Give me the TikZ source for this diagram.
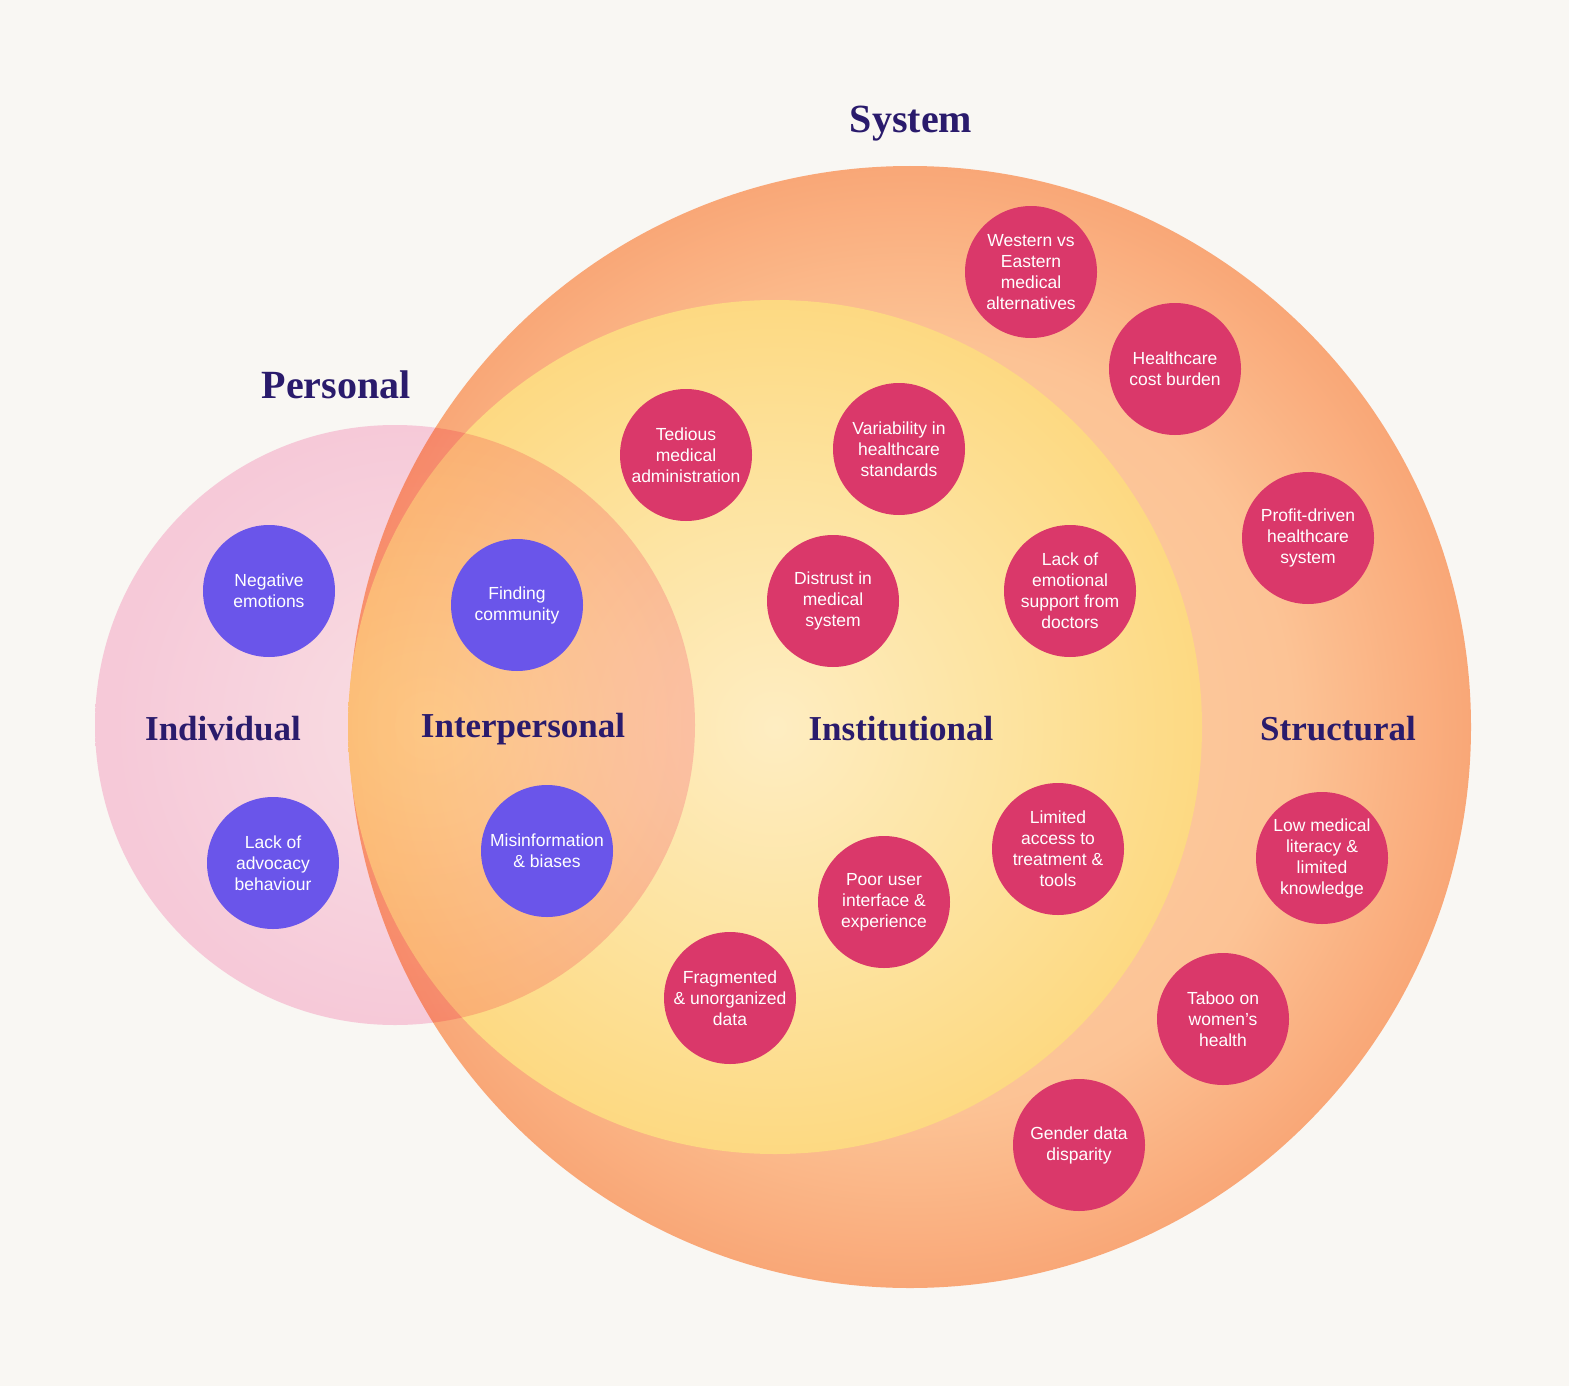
\documentclass[tikz,border=0pt]{standalone}
\usepackage{fontspec}
\setmainfont{Liberation Serif}
\setsansfont{Liberation Sans}
\usetikzlibrary{shadings}
\definecolor{bg}{HTML}{F9F7F3}
\definecolor{r1}{HTML}{DA386A}
\definecolor{v1}{HTML}{6A55EA}
\definecolor{n1}{HTML}{2A1B6C}
\definecolor{o1}{HTML}{FDD2A8}
\definecolor{o2}{HTML}{FCC395}
\definecolor{o3}{HTML}{F9A777}
\definecolor{y1}{HTML}{FEEDC2}
\definecolor{y2}{HTML}{FDE39F}
\definecolor{y3}{HTML}{FDD982}
\definecolor{p1}{HTML}{FFE6F0}
\definecolor{p3}{HTML}{FCD0E3}
\pgfdeclareradialshading{sysshade}{\pgfpoint{0bp}{0bp}}{color(0bp)=(o1); color(17bp)=(o2); color(25bp)=(o3); color(50bp)=(o3)}
\pgfdeclareradialshading{instshade}{\pgfpoint{0bp}{0bp}}{color(0bp)=(y1); color(14bp)=(y2); color(25bp)=(y3); color(50bp)=(y3)}
\pgfdeclareradialshading{persshade}{\pgfpoint{3bp}{0bp}}{color(0bp)=(p1); color(25bp)=(p3); color(50bp)=(p3)}
\tikzset{
    ball/.style={circle, minimum size=132pt, inner sep=0pt, text=white, align=center,
        font=\sffamily\fontsize{17.5}{21}\selectfont},
    redball/.style={ball, fill=r1},
    blueball/.style={ball, fill=v1},
    level/.style={text=n1, yshift=-3pt, font=\bfseries\fontsize{35}{40}\selectfont},
    header/.style={text=n1, yshift=-5pt, font=\bfseries\fontsize{40}{46}\selectfont}
}
\begin{document}
\begin{tikzpicture}[x=1pt, y=-1pt]
    % Background
    \fill[bg] (0,0) rectangle (1569,1386);
    \useasboundingbox (0,0) rectangle (1569,1386);

    % System (outer) and Institutional (inner)
    \shade[shading=sysshade] (910,727) circle (561pt);
    \shade[shading=instshade] (775,727) circle (427pt);

    % Personal circle, multiplied over the others
    \begin{scope}[blend mode=multiply]
        \shade[shading=persshade] (395,725) circle (300pt);
    \end{scope}

    % Headers
    \node[header] (system) at (911,119) {System};
    \node[header] (personal) at (336,380) {Personal};

    % Levels
    \node[level] (individual) at (223,726) {Individual};
    \node[level] (interpersonal) at (523,726) {Interpersonal};
    \node[level] (institutional) at (901,726) {Institutional};
    \node[level] (structural) at (1338,726) {Structural};

    % Individual + Interpersonal factors
    \node[blueball] (negative) at (269,591) {Negative\\emotions};
    \node[blueball] (advocacy) at (273,863) {Lack of\\advocacy\\behaviour};
    \node[blueball] (community) at (517,605) {Finding\\community};
    \node[blueball] (misinfo) at (547,851) {Misinformation\\\& biases};

    % Institutional factors
    \node[redball] (tedious) at (686,455) {Tedious\\medical\\administration};
    \node[redball] (variability) at (899,449) {Variability in\\healthcare\\standards};
    \node[redball] (distrust) at (833,601) {Distrust in\\medical\\system};
    \node[redball] (emotional) at (1070,591) {Lack of\\emotional\\support from\\doctors};
    \node[redball] (access) at (1058,849) {Limited\\access to\\treatment \&\\tools};
    \node[redball] (interface) at (884,902) {Poor user\\interface \&\\experience};
    \node[redball] (fragmented) at (730,998) {Fragmented\\\& unorganized\\data};

    % Structural factors
    \node[redball] (western) at (1031,272) {Western vs\\Eastern\\medical\\alternatives};
    \node[redball] (cost) at (1175,369) {Healthcare\\cost burden};
    \node[redball] (profit) at (1308,538) {Profit-driven\\healthcare\\system};
    \node[redball] (literacy) at (1322,858) {Low medical\\literacy \&\\limited\\knowledge};
    \node[redball] (taboo) at (1223,1019) {Taboo on\\women’s\\health};
    \node[redball] (gender) at (1079,1145) {Gender data\\disparity};
\end{tikzpicture}
\end{document}
